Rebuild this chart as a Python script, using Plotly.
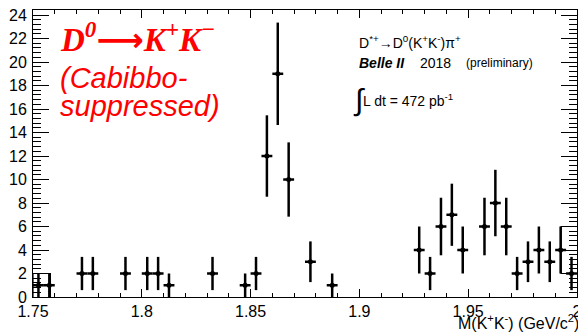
import plotly.graph_objects as go

# bin centres (GeV/c^2) of non-empty bins, bin width 0.005
mass = [1.7525, 1.7575, 1.7725, 1.7775, 1.7925, 1.8025, 1.8075, 1.8125, 1.8325,
        1.8475, 1.8525, 1.8575, 1.8625, 1.8675, 1.8775, 1.8875,
        1.9275, 1.9325, 1.9375, 1.9425, 1.9475, 1.9575, 1.9625, 1.9675,
        1.9725, 1.9775, 1.9825, 1.9875, 1.9925, 1.9975]
counts = [1, 1, 2, 2, 2, 2, 2, 1, 2,
          1, 2, 12, 19, 10, 3, 1,
          4, 2, 6, 7, 4, 6, 8, 6,
          2, 3, 4, 3, 4, 2]
half_width = 0.0025
errors = [c ** 0.5 for c in counts]

# outline fragments visible at the edges
box_left_x = [1.75, 1.75, 1.758, 1.758]
box_left_y = [0, 2, 2, 0]
box_right_x = [2.0, 1.9927, 1.9927, 2.0]
box_right_y = [6, 6, 2, 2]

fig = go.Figure()
fig.add_trace(go.Scatter(x=box_left_x, y=box_left_y, mode="lines",
                         line=dict(color="black", width=1.2), showlegend=False, hoverinfo="skip"))
fig.add_trace(go.Scatter(x=box_right_x, y=box_right_y, mode="lines",
                         line=dict(color="black", width=1.2), showlegend=False, hoverinfo="skip"))
fig.add_trace(go.Scatter(
    x=mass, y=counts, mode="markers",
    marker=dict(color="black", size=5, symbol="circle"),
    error_y=dict(type="data", array=errors, visible=True, color="black", thickness=2.5, width=0),
    error_x=dict(type="data", array=[half_width] * len(mass), visible=True, color="black", thickness=2.5, width=0),
    showlegend=False,
))

font = "Liberation Sans, Arial, Helvetica, sans-serif"
fig.update_layout(
    width=578, height=332,
    margin=dict(l=33, r=1, t=10, b=35),
    paper_bgcolor="white", plot_bgcolor="white",
    font=dict(family=font, size=16, color="black"),
)
fig.update_xaxes(
    range=[1.75, 2.00002], tickmode="array",
    tickvals=[1.75, 1.8, 1.85, 1.9, 1.95, 2.0],
    ticktext=["1.75", "1.8", "1.85", "1.9", "1.95", "2"],
    ticks="inside", ticklen=8, tickwidth=1, tickcolor="black",
    minor=dict(dtick=0.01, tick0=1.75, ticks="inside", ticklen=4, tickcolor="black", showgrid=False),
    showline=True, linecolor="black", linewidth=1, mirror="ticks",
    showgrid=False, zeroline=False, tickfont=dict(size=16), ticklabeloverflow="allow",
    automargin=False,
)
fig.update_yaxes(
    range=[0, 24.43], dtick=2, tick0=0,
    ticks="inside", ticklen=16, tickwidth=1, tickcolor="black",
    minor=dict(dtick=0.4, tick0=0, ticks="inside", ticklen=8, tickcolor="black", showgrid=False),
    showline=True, linecolor="black", linewidth=1, mirror="ticks",
    showgrid=False, zeroline=False, tickfont=dict(size=16), ticklabelstandoff=2,
    automargin=False,
)

def px(x):
    return (x - 33) / 544.0

def py(y):
    return (297 - y) / 287.0

red = "#ff0000"
ann = [
    dict(text="<b><i>D<sup>0</sup><span style='font-family:DejaVu Sans'>⟶</span>K<sup>+</sup>K<sup>−</sup></i></b>",
         x=px(58), y=py(38),
         font=dict(family="Liberation Serif, Times New Roman, serif", size=33, color=red)),
    dict(text="<i>(Cabibbo-</i>", x=px(58), y=py(78), font=dict(family=font, size=29, color=red)),
    dict(text="<i>suppressed)</i>", x=px(58), y=py(106), font=dict(family=font, size=29, color=red)),
    dict(text="D<sup>*+</sup>→D<sup>0</sup>(K<sup>+</sup>K<sup>-</sup>)π<sup>+</sup>", x=px(357), y=py(42),
         font=dict(family=font, size=14)),
    dict(text="<b><i>Belle II</i></b>", x=px(357), y=py(63), font=dict(family=font, size=14)),
    dict(text="2018", x=px(418), y=py(63), font=dict(family=font, size=14)),
    dict(text="(preliminary)", x=px(464), y=py(63), font=dict(family=font, size=12)),
    dict(text="∫", x=px(351), y=py(100), font=dict(family=font, size=30)),
    dict(text="L dt = 472 pb<sup>-1</sup>", x=px(361), y=py(100), font=dict(family=font, size=14)),
    dict(text="M(K<sup>+</sup>K<sup>-</sup>) (GeV/c<sup>2</sup>)", x=px(581), y=py(322),
         xanchor="right", font=dict(family=font, size=16)),
]
for a in ann:
    a.setdefault("xanchor", "left")
    fig.add_annotation(xref="paper", yref="paper", yanchor="middle", showarrow=False, **a)

fig.write_html("out.html")
